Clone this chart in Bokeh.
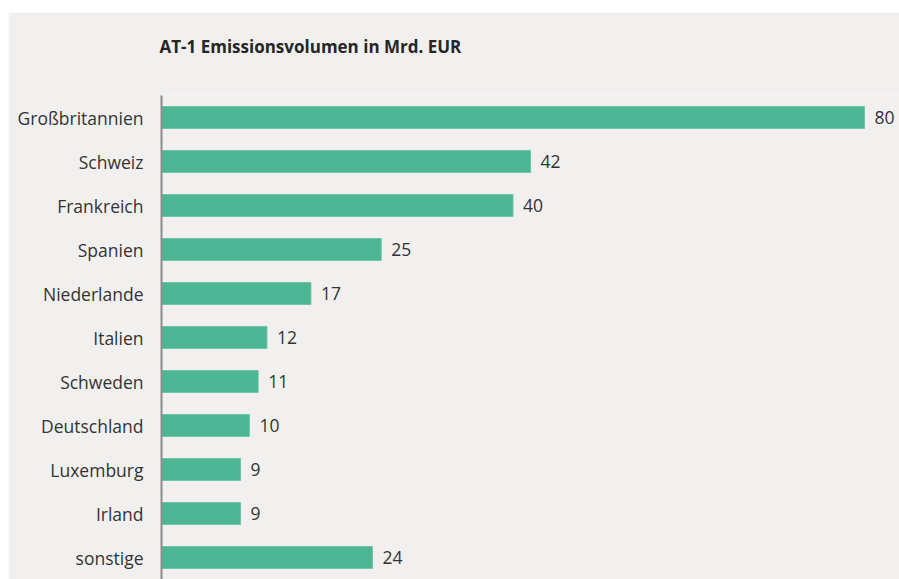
from bokeh.plotting import figure
from bokeh.models import ColumnDataSource, Range1d, FactorRange, Spacer, Title
from bokeh.layouts import column, row
from bokeh.core.properties import value
from bokeh.embed import file_html
from bokeh.resources import INLINE

countries = ["Großbritannien", "Schweiz", "Frankreich", "Spanien", "Niederlande",
             "Italien", "Schweden", "Deutschland", "Luxemburg", "Irland", "sonstige"]
volumes = [80, 42, 40, 25, 17, 12, 11, 10, 9, 9, 24]
title_text = "AT-1 Emissionsvolumen in Mrd. EUR"

BG = "#f2f0ef"
BAR = "#4db594"
FONT = "Open Sans"

src = ColumnDataSource(dict(cat=countries, val=volumes, lbl=[str(v) for v in volumes]))

p = figure(width=891, height=567, output_backend="svg", toolbar_location=None,
           y_range=FactorRange(factors=countries[::-1], range_padding=0),
           x_range=Range1d(0, 83.98),
           min_border_left=153, min_border_right=0, min_border_top=83, min_border_bottom=0,
           background_fill_color=BG, border_fill_color=BG, outline_line_color=None)

# spacer title next to the frame, then the real title above it
p.add_layout(Title(text=" ", text_font_size="1px", standoff=25), "above")
p.add_layout(Title(text=title_text, text_font=FONT, text_font_size="17px",
                   text_font_style="bold", text_color="#262626",
                   align="left", offset=-2, standoff=20), "above")

p.hbar(y="cat", right="val", left=0, height=0.5, source=src,
       fill_color=BAR, line_color="#6cc5a8", line_width=1)
p.text(x="val", y="cat", text="lbl", source=src, x_offset=10,
       text_baseline="middle", text_align="left",
       text_font=value(FONT), text_font_size="17.5px", text_color="#333333")

p.xaxis.visible = False
p.xgrid.visible = False
p.ygrid.visible = False
p.yaxis.axis_line_color = "#8c8c8c"
p.yaxis.axis_line_width = 2
p.yaxis.major_tick_line_color = None
p.yaxis.minor_tick_line_color = None
p.yaxis.major_label_standoff = 12
p.yaxis.major_label_text_font = FONT
p.yaxis.major_label_text_font_size = "17.5px"
p.yaxis.major_label_text_color = "#333333"

layout = row(Spacer(width=8, height=579),
             column(Spacer(height=12, width=891), p, spacing=0),
             spacing=0)

open("out.html", "w").write(file_html(layout, INLINE))
